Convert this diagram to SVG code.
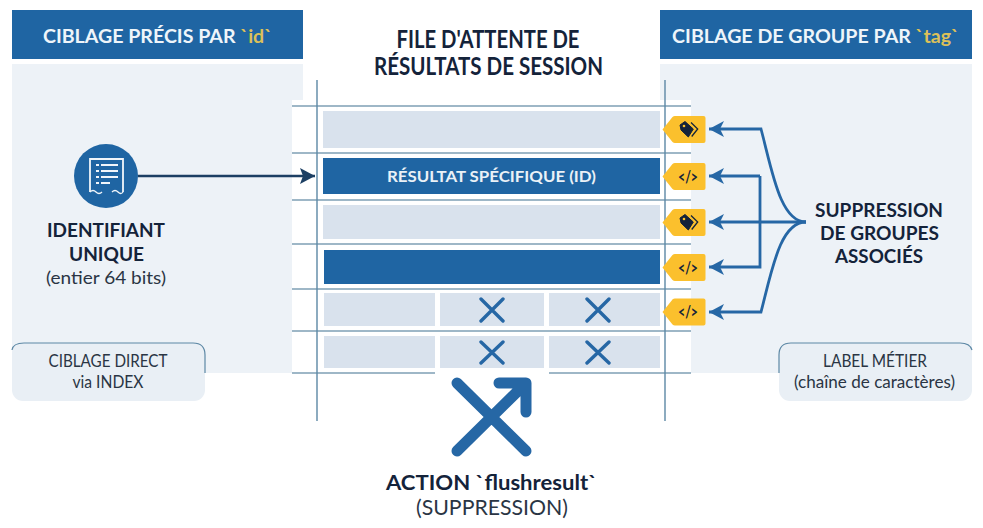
<svg xmlns="http://www.w3.org/2000/svg" width="983" height="528" viewBox="0 0 983 528">
<style>
text{font-family:Lato,"Open Sans","Liberation Sans",sans-serif;text-anchor:middle;fill:#14233a}
.t{font-weight:700}
.hd{font-weight:700;font-size:19.600px;fill:#eef5fa}
.gold{fill:#dcc05a}
.head{fill:#1f65a3}
.panel{fill:#edf2f7}
.lt{fill:#d9e2ed}
.dk{fill:#1f65a3}
.gridh{stroke:#7fa0b5;stroke-width:1.300;fill:none}
.gridv{stroke:#5d88a5;stroke-width:1.400;fill:none}
.x{stroke:#2667a5;stroke-width:3.400;stroke-linecap:round;fill:none}
.tag{fill:#fbc02d}
.conn{stroke:#2667a5;stroke-width:2.800;fill:none}
.box{fill:#e9eff5}
.boxline{fill:none;stroke:#5d88a5;stroke-width:1.200}
.sm{font-size:16.500px;fill:#2a3544}
.code{font-size:17px;font-weight:700;fill:#14233a}
</style>
<defs>
<marker id="ah" markerUnits="userSpaceOnUse" markerWidth="17" markerHeight="16" refX="15" refY="8" orient="auto-start-reverse"><path d="M0,0L15,8L0,16L4,8Z" fill="#2667a5"/></marker>
<marker id="ahd" markerUnits="userSpaceOnUse" markerWidth="16" markerHeight="16" refX="15" refY="8" orient="auto"><path d="M0,0L15,8L0,16L3,8Z" fill="#1c3f63"/></marker>
<path id="tagshape" d="M-15,0L-5,-12.500Q-4,-13.500 -2.500,-13.500H26Q28,-13.500 28,-11.500V11.500Q28,13.500 26,13.500H-2.500Q-4,13.500 -5,12.500Z"/>
<g id="tagicon"><path d="M-8,-4.500L-3,-8L5.300,-0.500L0.300,7.500L-7,0.500Z" fill="#14233a" stroke="#14233a" stroke-width="1" stroke-linejoin="round"/><path d="M3,-7L9.700,-0.500L3.700,7" fill="none" stroke="#14233a" stroke-width="1.300"/><circle cx="-4" cy="-3.500" r="1.300" fill="#fbc02d"/></g>
</defs>

<g id="panel-left">
<rect class="panel" x="12" y="64" width="291" height="309"/>
<rect class="head" x="12" y="10" width="291" height="49"/>
<text class="hd" x="157.500" y="43">CIBLAGE PRÉCIS PAR <tspan class="gold">`id`</tspan></text>
</g>
<g id="panel-right">
<rect class="panel" x="660" y="64" width="312" height="309"/>
<rect class="head" x="660" y="10" width="312" height="49"/>
<text class="hd" x="815.500" y="43">CIBLAGE DE GROUPE PAR <tspan class="gold">`tag`</tspan></text>
</g>

<g id="queue">
<rect x="292" y="100" width="399" height="273" fill="#fff"/>
<text class="t" x="488" y="48" font-size="24" textLength="183" lengthAdjust="spacingAndGlyphs">FILE D'ATTENTE DE</text>
<text class="t" x="488.500" y="75" font-size="24" textLength="229" lengthAdjust="spacingAndGlyphs">RÉSULTATS DE SESSION</text>
<path class="gridh" d="M292,106H691M292,153H691M292,200H691M292,244H691M292,289H691M292,331H691M292,373H435M549,373H691"/>
<path class="gridv" d="M317,80V421M665,80V421"/>
<rect class="lt" x="323" y="111" width="337" height="37"/>
<rect class="dk" x="323" y="158" width="337" height="36"/>
<text class="t" x="491.500" y="182" font-size="16" style="fill:#eaf1f7" textLength="209" lengthAdjust="spacingAndGlyphs">RÉSULTAT SPÉCIFIQUE (ID)</text>
<rect class="lt" x="323" y="205" width="337" height="34"/>
<rect class="dk" x="324" y="250" width="336" height="34"/>
<rect class="lt" x="324" y="293" width="111" height="33"/>
<rect class="lt" x="440" y="293" width="104" height="33"/>
<rect class="lt" x="549" y="293" width="111" height="33"/>
<rect class="lt" x="324" y="336" width="111" height="32"/>
<rect class="lt" x="440" y="336" width="104" height="32"/>
<rect class="lt" x="549" y="336" width="111" height="32"/>
<path class="x" d="M481,299L503,321M503,299L481,321M587,299L609,321M609,299L587,321M481,342L503,363M503,342L481,363M587,342L609,363M609,342L587,363"/>
</g>

<g id="tag-1"><use href="#tagshape" class="tag" x="677.500" y="129.500"/><use href="#tagicon" x="688" y="129.500"/></g>
<g id="tag-2"><use href="#tagshape" class="tag" x="677.500" y="176.500"/><text class="code" x="688" y="182.500" textLength="20" lengthAdjust="spacingAndGlyphs">&lt;/&gt;</text></g>
<g id="tag-3"><use href="#tagshape" class="tag" x="677.500" y="222.500"/><use href="#tagicon" x="688" y="222.500"/></g>
<g id="tag-4"><use href="#tagshape" class="tag" x="677.500" y="267.500"/><text class="code" x="688" y="273.500" textLength="20" lengthAdjust="spacingAndGlyphs">&lt;/&gt;</text></g>
<g id="tag-5"><use href="#tagshape" class="tag" x="677.500" y="312"/><text class="code" x="688" y="318" textLength="20" lengthAdjust="spacingAndGlyphs">&lt;/&gt;</text></g>

<g id="connectors">
<path d="M138,176H315" stroke="#1c3f63" stroke-width="2.400" fill="none" marker-end="url(#ahd)"/>
<path class="conn" d="M806,222C780,222 772,170 761,129H709" marker-end="url(#ah)"/>
<path class="conn" d="M806,222H709" marker-end="url(#ah)"/>
<path class="conn" d="M806,222C780,222 772,270 761,312H709" marker-end="url(#ah)"/>
<path class="conn" d="M760,176H709" marker-end="url(#ah)"/>
<path class="conn" d="M760,176V267H709" marker-end="url(#ah)"/>
</g>

<g id="id-node">
<circle cx="106" cy="176" r="32" fill="#1f65a3"/>
<path d="M90,192V159H123V192" fill="none" stroke="#f0f5fa" stroke-width="1.800"/>
<path d="M90,192q3,-3 6,0t6,0M112,192q3,-3 6,0t5,0" fill="none" stroke="#f0f5fa" stroke-width="1.300"/>
<path d="M96,165h3M101,165h17M96,171h3M101,171h17M96,177h3M101,177h17M96,183h3M101,183h9" stroke="#f0f5fa" stroke-width="2.200" fill="none"/>
<text class="t" x="106" y="237" font-size="19.500" textLength="118" lengthAdjust="spacingAndGlyphs">IDENTIFIANT</text>
<text class="t" x="106.500" y="261" font-size="19.500" textLength="75" lengthAdjust="spacingAndGlyphs">UNIQUE</text>
<text x="106" y="284" font-size="17.500" style="fill:#2a3544" textLength="120" lengthAdjust="spacingAndGlyphs">(entier 64 bits)</text>
</g>

<g id="label-direct">
<rect class="box" x="12" y="343" width="193" height="58" rx="11"/>
<path class="boxline" d="M12,350Q13,343 24,343H193Q205,343 205,355V373"/>
<text class="sm" x="108" y="367" textLength="119" lengthAdjust="spacingAndGlyphs">CIBLAGE DIRECT</text>
<text class="sm" x="108" y="388" textLength="71" lengthAdjust="spacingAndGlyphs">via INDEX</text>
</g>

<g id="label-metier">
<rect class="box" x="779" y="343" width="193" height="58" rx="11"/>
<path class="boxline" d="M779,373V355Q779,343 791,343H960Q970,343 972,350"/>
<text class="sm" x="875" y="367" textLength="104" lengthAdjust="spacingAndGlyphs">LABEL MÉTIER</text>
<text class="sm" x="874.500" y="388" textLength="161" lengthAdjust="spacingAndGlyphs">(chaîne de caractères)</text>
</g>

<g id="groups-label">
<text class="t" x="879" y="217" font-size="19.500" textLength="128" lengthAdjust="spacingAndGlyphs">SUPPRESSION</text>
<text class="t" x="879.500" y="240" font-size="19.500" textLength="119" lengthAdjust="spacingAndGlyphs">DE GROUPES</text>
<text class="t" x="879" y="263" font-size="19.500" textLength="88" lengthAdjust="spacingAndGlyphs">ASSOCIÉS</text>
</g>

<g id="action">
<path d="M457,383L526,451M457,451L526,383M499,383H526V412" fill="none" stroke="#2667a5" stroke-width="11" stroke-linecap="round" stroke-linejoin="round"/>
<text class="t" x="491.500" y="490" font-size="21.500" textLength="211" lengthAdjust="spacingAndGlyphs">ACTION `flushresult`</text>
<text x="492" y="515" font-size="21.500" style="fill:#2a3544" textLength="152" lengthAdjust="spacingAndGlyphs">(SUPPRESSION)</text>
</g>
</svg>
